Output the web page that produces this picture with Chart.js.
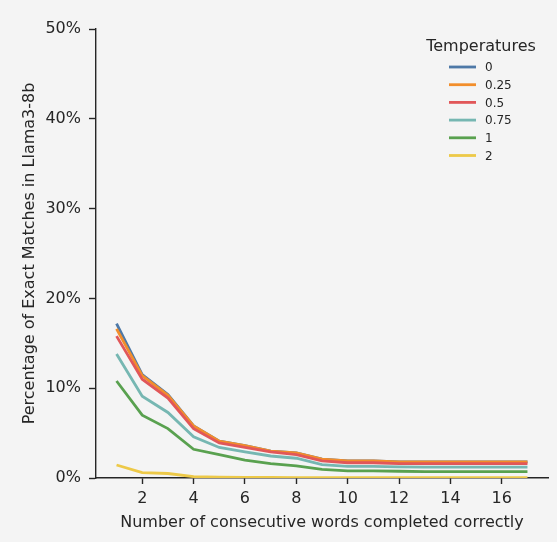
<!DOCTYPE html>
<html>
<head>
<meta charset="utf-8">
<script src="https://cdn.jsdelivr.net/npm/chart.js@4/dist/chart.umd.min.js"></script>
<style>
  html, body { margin: 0; padding: 0; background: #f4f4f4; }
  #wrap { width: 557px; height: 542px; position: relative; }
</style>
</head>
<body>
<div id="wrap"><canvas id="c" width="557" height="542"></canvas></div>
<script>
const steps = [1, 2, 3, 4, 5, 6, 7, 8, 9, 10, 11, 12, 13, 14, 15, 16, 17];
const temperatures = ['0', '0.25', '0.5', '0.75', '1', '2'];
const xTicks = [2, 4, 6, 8, 10, 12, 14, 16];
const yTicks = [0, 10, 20, 30, 40, 50];

const temp0   = [17.2, 11.5, 9.3, 5.8, 4.1, 3.6, 3.0, 2.8, 2.1, 1.9, 1.9, 1.8, 1.8, 1.8, 1.8, 1.8, 1.8];
const temp025 = [16.6, 11.4, 9.2, 5.8, 4.1, 3.6, 3.0, 2.8, 2.1, 1.9, 1.9, 1.8, 1.8, 1.8, 1.8, 1.8, 1.8];
const temp05  = [15.8, 11.0, 8.9, 5.5, 3.9, 3.4, 2.9, 2.6, 1.9, 1.7, 1.7, 1.6, 1.6, 1.6, 1.6, 1.6, 1.6];
const temp075 = [13.8, 9.1, 7.3, 4.6, 3.4, 2.9, 2.45, 2.2, 1.5, 1.3, 1.3, 1.25, 1.2, 1.2, 1.2, 1.2, 1.2];
const temp1   = [10.8, 7.0, 5.5, 3.2, 2.6, 2.0, 1.6, 1.35, 0.95, 0.8, 0.8, 0.75, 0.7, 0.7, 0.7, 0.7, 0.7];
const temp2   = [1.45, 0.6, 0.5, 0.15, 0.1, 0.08, 0.06, 0.05, 0.05, 0.05, 0.05, 0.05, 0.05, 0.05, 0.05, 0.05, 0.05];

const seriesValues = [temp0, temp025, temp05, temp075, temp1, temp2];
const colors = ['#4e79a7', '#f28e2b', '#e15759', '#76b7b2', '#59a14f', '#edc948'];

const FONT = "'DejaVu Sans', sans-serif";
const TEXT = '#262626';

const datasets = seriesValues.map((vals, i) => ({
  label: temperatures[i],
  data: vals.map((v, j) => ({ x: steps[j], y: v })),
  borderColor: colors[i],
  backgroundColor: colors[i],
  borderWidth: 2.8,
  pointRadius: 0,
  tension: 0,
  fill: false,
  order: seriesValues.length - i
}));

const legendPlugin = {
  id: 'customLegend',
  afterDraw(chart) {
    const ctx = chart.ctx;
    ctx.save();
    ctx.fillStyle = TEXT;
    ctx.font = "16px " + FONT;
    ctx.textAlign = 'center';
    ctx.textBaseline = 'middle';
    ctx.fillText('Temperatures', 481, 47);
    ctx.font = "12px " + FONT;
    ctx.textAlign = 'left';
    chart.data.datasets.forEach((ds, i) => {
      const y = 67 + i * 17.7;
      ctx.strokeStyle = ds.borderColor;
      ctx.lineWidth = 2.8;
      ctx.beginPath();
      ctx.moveTo(449, y);
      ctx.lineTo(476, y);
      ctx.stroke();
      ctx.fillStyle = TEXT;
      ctx.fillText(ds.label, 485, y + 1);
    });
    ctx.restore();
  }
};

const bgPlugin = {
  id: 'bg',
  beforeDraw(chart) {
    const ctx = chart.ctx;
    ctx.save();
    ctx.fillStyle = '#f4f4f4';
    ctx.fillRect(0, 0, chart.width, chart.height);
    ctx.restore();
  }
};

new Chart(document.getElementById('c'), {
  type: 'line',
  data: { datasets },
  plugins: [bgPlugin, legendPlugin],
  options: {
    responsive: false,
    animation: false,
    layout: { padding: { left: 0, right: 9, top: 29, bottom: 0 } },
    plugins: { legend: { display: false }, tooltip: { enabled: false } },
    scales: {
      x: {
        type: 'linear',
        min: 0.2,
        max: 17.8,
        afterBuildTicks(scale) { scale.ticks = xTicks.map(v => ({ value: v })); },
        afterFit(scale) { scale.height = 64; },
        border: { display: true, color: TEXT, width: 1.4 },
        grid: { display: true, drawOnChartArea: false, drawTicks: true, tickLength: 6, color: TEXT, tickWidth: 1.4 },
        ticks: { color: TEXT, font: { family: FONT, size: 16 }, padding: 5, maxRotation: 0, autoSkip: false },
        title: { display: true, text: 'Number of consecutive words completed correctly', color: TEXT, font: { family: FONT, size: 16 }, padding: { top: 0, bottom: 10 } }
      },
      y: {
        type: 'linear',
        min: 0,
        max: 50,
        afterBuildTicks(scale) { scale.ticks = yTicks.map(v => ({ value: v })); },
        afterFit(scale) { scale.width = 96; },
        border: { display: true, color: TEXT, width: 1.4 },
        grid: { display: true, drawOnChartArea: false, drawTicks: true, tickLength: 7, color: TEXT, tickWidth: 1.4 },
        ticks: { color: TEXT, font: { family: FONT, size: 16 }, padding: 8, callback: v => v + '%' },
        title: { display: true, text: 'Percentage of Exact Matches in Llama3-8b', color: TEXT, font: { family: FONT, size: 16 }, padding: { top: 20, bottom: 0 } }
      }
    }
  }
});
</script>
</body>
</html>
